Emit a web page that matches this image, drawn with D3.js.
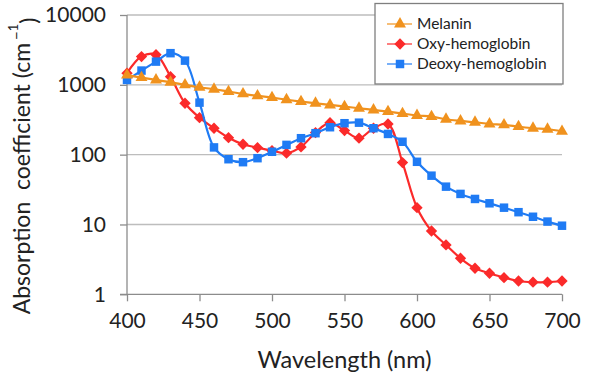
<!DOCTYPE html>
<html>
<head>
<meta charset="utf-8">
<script src="https://cdn.jsdelivr.net/npm/d3@7"></script>
<style>
  body { margin: 0; background: #fff; }
  text { font-family: Lato, "Open Sans", sans-serif; fill: #222; }
</style>
</head>
<body>
<div id="chart"></div>
<script>
// data
const wavelengths = [400, 410, 420, 430, 440, 450, 460, 470, 480, 490, 500, 510, 520, 530, 540, 550,
  560, 570, 580, 590, 600, 610, 620, 630, 640, 650, 660, 670, 680, 690, 700]
const melanin = [1380, 1270, 1175, 1090, 1000, 924, 865, 800, 741, 694, 656, 612, 575, 545, 515, 488,
  462, 437, 413, 388, 364, 351, 321, 304, 291, 275, 267, 252, 239, 231, 216]
const oxyHb = [1470, 2540, 2700, 1310, 545, 339, 239, 175, 141, 126, 114, 105, 129, 207, 287, 221,
  172, 239, 275, 77, 17.4, 8.07, 5.09, 3.28, 2.36, 2.0, 1.73, 1.55, 1.49, 1.49, 1.55]
const deoxyHb = [1175, 1600, 2150, 2840, 2220, 556, 127, 86, 78, 89, 110, 138, 172, 203, 247, 282,
  287, 239, 198, 153, 79, 50, 34.8, 27.4, 23.2, 20.1, 17.4, 15, 12.9, 11, 9.6]
const seriesNames = ['Melanin', 'Oxy-hemoglobin', 'Deoxy-hemoglobin']
const xTicks = [400, 450, 500, 550, 600, 650, 700]
const yTicks = [1, 10, 100, 1000, 10000]

const width = 597, height = 379

const x = d3.scaleLinear().domain([400, 700]).range([127, 562])
const y = d3.scaleLog().domain([1, 10000]).range([294.3, 15])

const svg = d3.select('#chart').append('svg')
  .attr('width', width)
  .attr('height', height)

// gridlines
svg.append('g')
  .selectAll('line')
  .data(yTicks.slice(1))
  .enter().append('line')
  .attr('x1', x(400)).attr('x2', x(700))
  .attr('y1', d => y(d)).attr('y2', d => y(d))
  .attr('stroke', '#bdbdbd')
  .attr('stroke-width', 1.3)

// axes
const yAxis = d3.axisLeft(y).tickValues(yTicks).tickFormat(d3.format('d')).tickSize(7).tickPadding(14)
const xAxis = d3.axisBottom(x).tickValues(xTicks).tickSize(7).tickPadding(12)

const gy = svg.append('g').attr('transform', `translate(${x(400)},0)`).call(yAxis)
const gx = svg.append('g').attr('transform', `translate(0,${y(1)})`).call(xAxis)
gx.select('.domain').attr('d', `M${x(400) - 7},0H${x(700)}`)
gy.select('.domain').attr('d', `M0,${y(10000)}V${y(1)}`)
for (const g of [gx, gy]) {
  g.selectAll('.domain, .tick line').attr('stroke', '#8c8c8c').attr('stroke-width', 1.3)
  g.selectAll('.tick text').attr('font-size', 21).attr('fill', '#222')
    .style('font-family', 'Lato, sans-serif')
}

// series
const diamond = { draw(ctx, size) { const r = Math.sqrt(size / 2); ctx.moveTo(0, -r); ctx.lineTo(r, 0); ctx.lineTo(0, r); ctx.lineTo(-r, 0); ctx.closePath() } }
const series = [
  { name: seriesNames[1], values: oxyHb, color: '#fb2a2a', shape: diamond, size: 64 },
  { name: seriesNames[2], values: deoxyHb, color: '#1f7bf4', shape: d3.symbolSquare, size: 72 },
  { name: seriesNames[0], values: melanin, color: '#f0921e', shape: d3.symbolTriangle, size: 62 }
]

const line = d3.line()
  .x((d, i) => x(wavelengths[i]))
  .y(d => y(d))
  .curve(d3.curveCatmullRom.alpha(0.5))

series.forEach(s => {
  svg.append('path')
    .datum(s.values)
    .attr('d', line)
    .attr('fill', 'none')
    .attr('stroke', s.color)
    .attr('stroke-width', 2.2)

  svg.append('g')
    .selectAll('path')
    .data(s.values)
    .enter().append('path')
    .attr('transform', (d, i) => `translate(${x(wavelengths[i])},${y(d)})`)
    .attr('d', d3.symbol().type(s.shape).size(s.size))
    .attr('fill', s.color)
})

// legend
const legend = svg.append('g')
legend.append('rect')
  .attr('x', 375).attr('y', 3.5)
  .attr('width', 188).attr('height', 80.5)
  .attr('fill', '#fff')
  .attr('stroke', '#7f7f7f')
  .attr('stroke-width', 1.3)

const legendOrder = [series[2], series[0], series[1]]
legendOrder.forEach((s, i) => {
  const ly = 24 + i * 20
  legend.append('line')
    .attr('x1', 387).attr('x2', 412)
    .attr('y1', ly).attr('y2', ly)
    .attr('stroke', s.color).attr('stroke-opacity', 0.6)
    .attr('stroke-width', 2)
  legend.append('path')
    .attr('transform', `translate(400,${ly})`)
    .attr('d', d3.symbol().type(s.shape).size(s.size))
    .attr('fill', s.color)
  legend.append('text')
    .attr('x', 417).attr('y', ly)
    .attr('dy', '0.35em')
    .attr('font-size', 15.5)
    .text(s.name)
})

// axis titles
svg.append('text')
  .attr('x', x(550)).attr('y', 360)
  .attr('dy', '0.35em')
  .attr('text-anchor', 'middle')
  .attr('font-size', 23.5)
  .text('Wavelength (nm)')

const yt = svg.append('text')
  .attr('transform', 'translate(22,166) rotate(-90)')
  .attr('dy', '0.35em')
  .attr('text-anchor', 'middle')
  .attr('font-size', 23)
yt.append('tspan').text('Absorption\u00a0 coefficient (cm\u2009')
yt.append('tspan').attr('font-size', 15).attr('dy', '-0.55em').text('\u2212')
yt.append('tspan').attr('font-size', 13).attr('dy', '-0.3em').text('1')
yt.append('tspan').attr('dy', '0.85em').text(')')
</script>
</body>
</html>
